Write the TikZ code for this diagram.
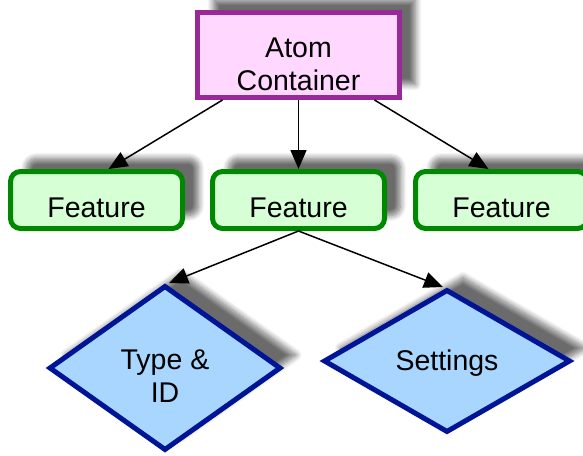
\documentclass[tikz,border=0pt]{standalone}
\usepackage{fontspec}
\setmainfont{Liberation Sans}
\usetikzlibrary{shapes.geometric,shadows.blur,arrows.meta}
\definecolor{boxpurple}{RGB}{153,40,153}
\definecolor{fillpink}{RGB}{255,215,255}
\definecolor{boxgreen}{RGB}{0,136,0}
\definecolor{fillgreen}{RGB}{214,255,214}
\definecolor{boxblue}{RGB}{0,20,150}
\definecolor{fillblue}{RGB}{168,214,255}
\tikzset{
  softshadow/.style={blur shadow={shadow xshift=16pt, shadow yshift=13pt,
      shadow blur radius=6pt, shadow blur steps=10, shadow opacity=58}},
  container/.style={draw=boxpurple, fill=fillpink, line width=5pt, softshadow,
      minimum width=202pt, minimum height=85pt, align=center, inner sep=0pt,
      text height=70pt, text depth=0pt},
  featurebox/.style={draw=boxgreen, fill=fillgreen, line width=5pt, softshadow,
      rounded corners=10pt, minimum width=172pt, minimum height=57pt,
      inner sep=0pt, text height=34pt, text depth=0pt},
  choice/.style={diamond, draw=boxblue, fill=fillblue, line width=5pt, softshadow,
      inner sep=0pt, align=center},
  link/.style={line width=1.5pt, -{Triangle[length=19pt,width=16pt]}}
}
\begin{document}
\begin{tikzpicture}[x=1pt, y=-1pt, font=\fontsize{28.5}{33}\selectfont]
\useasboundingbox (0,0) rectangle (583,455);

% top-level container
\node[container] (atom) at (298.5,55) {Atom\\Container};

% three features
\node[featurebox] (f1) at (96.5,200) {Feature};
\node[featurebox] (f2) at (298.5,200) {Feature};
\node[featurebox] (f3) at (501.5,200) {Feature};

% details of the middle feature
\node[choice, minimum width=232pt, minimum height=165pt,
      text height=68pt, text depth=0pt] (tid) at (165,368) {Type \&\\ID};
\node[choice, minimum width=247pt, minimum height=143pt,
      text height=24pt, text depth=6pt] (set) at (447,361) {Settings};

% connectors
\draw[link] ([xshift=-76pt]atom.south) -- ([xshift=12pt]f1.north);
\draw[link] (atom.south) -- (f2.north);
\draw[link] ([xshift=76pt]atom.south) -- ([xshift=-13pt]f3.north);
\draw[link] (f2.south) -- ([xshift=4pt]tid.north);
\draw[link] (f2.south) -- ([xshift=-4pt]set.north);
\end{tikzpicture}
\end{document}
